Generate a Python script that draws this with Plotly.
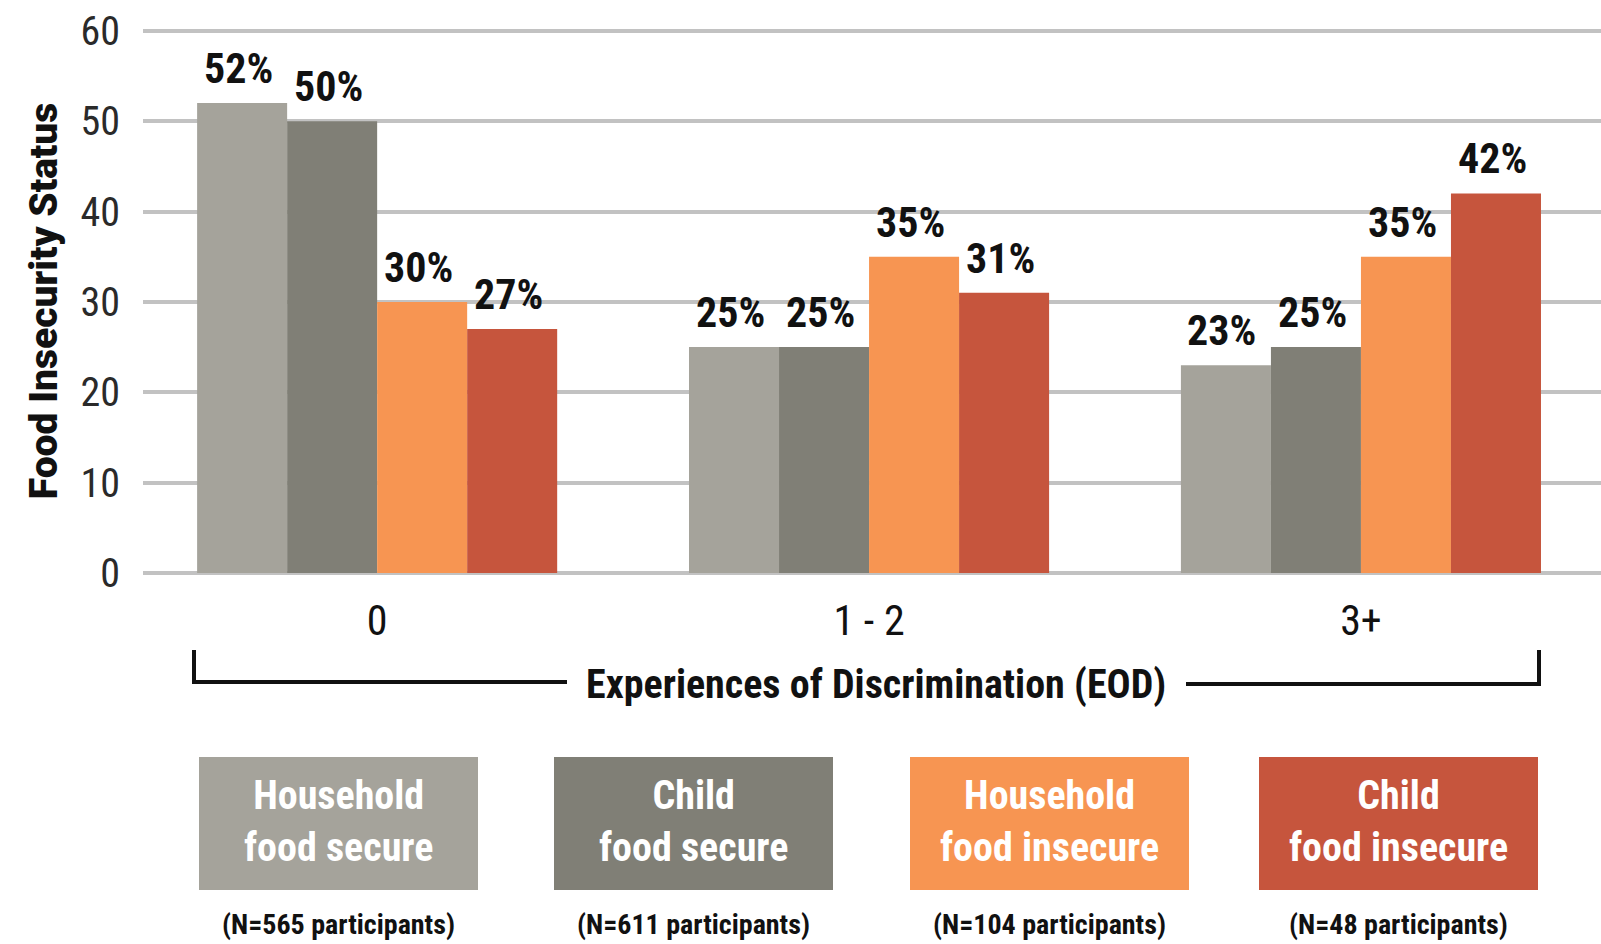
import plotly.graph_objects as go

categories = ["0", "1 - 2", "3+"]
series_names = ["Household food secure", "Child food secure",
                "Household food insecure", "Child food insecure"]
legend_lines = ["Household<br>food secure", "Child<br>food secure",
                "Household<br>food insecure", "Child<br>food insecure"]
hh_secure = [52, 25, 23]
child_secure = [50, 25, 25]
hh_insecure = [30, 35, 35]
child_insecure = [27, 31, 42]
participants = [565, 611, 104, 48]
y_ticks = [0, 10, 20, 30, 40, 50, 60]

series_values = [hh_secure, child_secure, hh_insecure, child_insecure]
colors = ["#A5A39B", "#807F76", "#F79552", "#C6553D"]

FONT = "Liberation Sans Narrow, Arial Narrow, Roboto Condensed, sans-serif"
WIDE = "Roboto, Open Sans, sans-serif"
W, H = 1601, 944
L, R, T, B = 143, 0, 29, 371
BARGAP = 0.268

def px(xp):
    return (xp - L) / (W - L - R)

def py(yp):
    return (H - B - yp) / (H - T - B)

fig = go.Figure()
for name, vals, col in zip(series_names, series_values, colors):
    fig.add_trace(go.Bar(x=list(range(len(categories))), y=vals, name=name,
                         marker=dict(color=col, line=dict(width=0)),
                         showlegend=False, hoverinfo="y"))

annotations = []
bw = (1 - BARGAP) / len(series_values)
for j, vals in enumerate(series_values):
    for i, v in enumerate(vals):
        annotations.append(dict(
            x=i + (j - 1.5) * bw - 0.008, y=v, xref="x", yref="y",
            text=f"{v}%", showarrow=False, yanchor="bottom", yshift=8,
            font=dict(family=FONT, size=42, color="#111111", weight="bold")))

shapes = []
line = dict(color="#111111", width=4)
# bracket
shapes.append(dict(type="line", xref="paper", yref="paper",
                   x0=px(194), x1=px(194), y0=py(650), y1=py(684), line=line))
shapes.append(dict(type="line", xref="paper", yref="paper",
                   x0=px(192), x1=px(567), y0=py(682), y1=py(682), line=line))
shapes.append(dict(type="line", xref="paper", yref="paper",
                   x0=px(1186), x1=px(1541), y0=py(684), y1=py(684), line=line))
shapes.append(dict(type="line", xref="paper", yref="paper",
                   x0=px(1539), x1=px(1539), y0=py(650), y1=py(686), line=line))
annotations.append(dict(x=px(876), y=py(684), xref="paper", yref="paper",
                        text="Experiences of Discrimination (EOD)", showarrow=False,
                        xanchor="center", yanchor="middle",
                        font=dict(family=FONT, size=40, color="#111111", weight="bold")))

# custom legend boxes
box_left = [199, 554, 910, 1259]
box_w = 279
for k in range(len(series_names)):
    x0 = box_left[k]
    x1 = x0 + box_w
    shapes.append(dict(type="rect", xref="paper", yref="paper",
                       x0=px(x0), x1=px(x1), y0=py(890), y1=py(757),
                       fillcolor=colors[k], line=dict(width=0)))
    cx = (x0 + x1) / 2
    annotations.append(dict(x=px(cx), y=py(821), xref="paper", yref="paper",
                            text=legend_lines[k], showarrow=False,
                            xanchor="center", yanchor="middle",
                            font=dict(family=FONT, size=40, color="white", weight="bold")))
    annotations.append(dict(x=px(cx), y=py(924), xref="paper", yref="paper",
                            text=f"(N={participants[k]} participants)", showarrow=False,
                            xanchor="center", yanchor="middle",
                            font=dict(family=FONT, size=28, color="#111111", weight="bold")))

fig.update_layout(
    width=W, height=H,
    margin=dict(l=L, r=R, t=T, b=B, pad=0),
    paper_bgcolor="white", plot_bgcolor="white",
    barmode="group", bargap=BARGAP, bargroupgap=0,
    font=dict(family=FONT, color="#222222"),
    xaxis=dict(tickmode="array", tickvals=list(range(len(categories))),
               ticktext=categories, range=[-0.476, 2.488],
               showgrid=False, zeroline=False, showline=False,
               ticks="", ticklabelstandoff=19,
               tickfont=dict(family=FONT, size=42, color="#111111")),
    yaxis=dict(range=[0, 60.2], tickvals=y_ticks, showgrid=True,
               gridcolor="#C2C2C2", gridwidth=4, zeroline=True,
               zerolinecolor="#C2C2C2", zerolinewidth=4, showline=False,
               ticks="", ticklabelstandoff=22,
               tickfont=dict(family=FONT, size=40, color="#2a2a2a"),
               title=dict(text="Food Insecurity Status", standoff=10,
                          font=dict(family=WIDE, size=39, color="#111111", weight=900))),
    shapes=shapes, annotations=annotations,
)

fig.write_html("out.html", config={"displayModeBar": False},
               post_script="document.body.style.margin='0';document.body.style.overflow='hidden';")
